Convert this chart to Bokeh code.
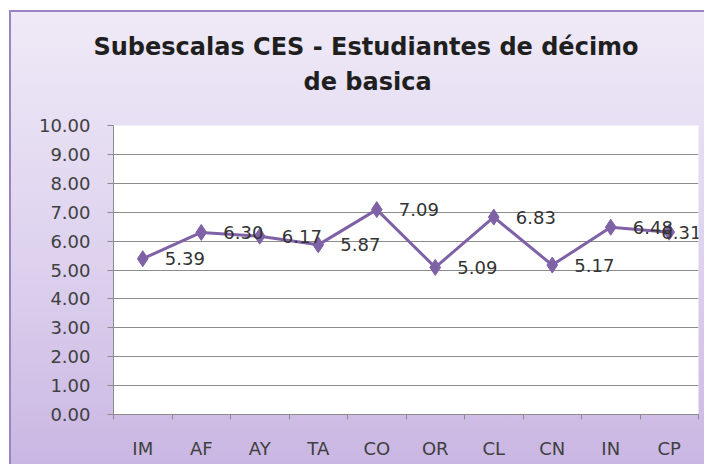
from bokeh.plotting import figure
from bokeh.models import (FixedTicker, Title, ColumnDataSource, LabelSet,
                          NumeralTickFormatter, Range1d, CustomJSTickFormatter)
from bokeh.core.properties import value
from bokeh.embed import file_html
from bokeh.resources import INLINE

# ---- data ----
categories = ["IM", "AF", "AY", "TA", "CO", "OR", "CL", "CN", "IN", "CP"]
values = [5.39, 6.30, 6.17, 5.87, 7.09, 5.09, 6.83, 5.17, 6.48, 6.31]
y_ticks = [0, 1, 2, 3, 4, 5, 6, 7, 8, 9, 10]
title_line1 = "Subescalas CES - Estudiantes de décimo"
title_line2 = "de basica"

# ---- derived ----
n = len(categories)
xpos = [i + 0.5 for i in range(n)]
boundaries = list(range(n + 1))
label_text = [f"{v:.2f}" for v in values]
label_dx = [22] * (n - 1) + [-8]

PURPLE = "#7F62A6"
GRID = "#8C8C8C"
FONT = "DejaVu Sans"
BORDER = "#9A84C2"

p = figure(frame_width=585, frame_height=289,
           min_border_left=113, min_border_right=6,
           min_border_top=125, min_border_bottom=50,
           x_range=Range1d(0, n), y_range=Range1d(0, 10),
           output_backend="svg", toolbar_location=None,
           background_fill_color="white", border_fill_color=None,
           outline_line_color=None)

p.styles = {
    "background-color": "white",
    "background-image": (f"linear-gradient({BORDER},{BORDER}), "
                         f"linear-gradient({BORDER},{BORDER}), "
                         "linear-gradient(to bottom, #EFEAF7 0%, #DDD1EE 55%, #C9B5E2 100%)"),
    "background-position": "9px 10px, 9px 10px, 9px 10px",
    "background-size": "2px 100%, 100% 2px, 100% 100%",
    "background-repeat": "no-repeat",
}

# titles (first added is closest to plot)
p.add_layout(Title(text=title_line2, align="left", text_font=FONT,
                   text_font_size="24px", text_font_style="bold",
                   text_color="#1F1F1F", standoff=60, offset=190), "above")
p.add_layout(Title(text=title_line1, align="left", text_font=FONT,
                   text_font_size="24px", text_font_style="bold",
                   text_color="#1F1F1F", standoff=-50, offset=-20), "above")

# x axis: labels at centers, ticks at boundaries (minor ticks)
xa = p.xaxis[0]
xa.ticker = FixedTicker(ticks=xpos, minor_ticks=boundaries)
xa.formatter = CustomJSTickFormatter(args=dict(cats=categories),
                                     code="return cats[Math.floor(tick)];")
xa.major_tick_in = 0
xa.major_tick_out = 0
xa.minor_tick_in = 0
xa.minor_tick_out = 5
xa.minor_tick_line_color = GRID
xa.axis_line_color = GRID
xa.major_label_standoff = 18
xa.major_label_text_font = FONT
xa.major_label_text_font_size = "18px"
xa.major_label_text_color = "#404040"

ya = p.yaxis[0]
ya.ticker = FixedTicker(ticks=y_ticks)
ya.formatter = NumeralTickFormatter(format="0.00")
ya.major_tick_in = 0
ya.major_tick_out = 6
ya.major_tick_line_color = GRID
ya.minor_tick_line_color = None
ya.axis_line_color = GRID
ya.major_label_standoff = 17
ya.major_label_text_font = FONT
ya.major_label_text_font_size = "18px"
ya.major_label_text_color = "#404040"

p.xgrid.visible = False
p.ygrid.ticker = FixedTicker(ticks=y_ticks)
p.ygrid.grid_line_color = GRID
p.ygrid.grid_line_width = 1

src = ColumnDataSource(dict(x=xpos, y=values, text=label_text, dx=label_dx))
p.line("x", "y", source=src, line_color=PURPLE, line_width=3)
p.scatter("x", "y", source=src, marker="diamond", size=16,
          fill_color=PURPLE, line_color=PURPLE)
p.add_layout(LabelSet(x="x", y="y", text="text", source=src, x_offset="dx",
                      text_align="left", text_baseline="middle",
                      text_font=value(FONT), text_font_size="18px",
                      text_color="#333333"))

open("out.html", "w").write(file_html(p, INLINE))
